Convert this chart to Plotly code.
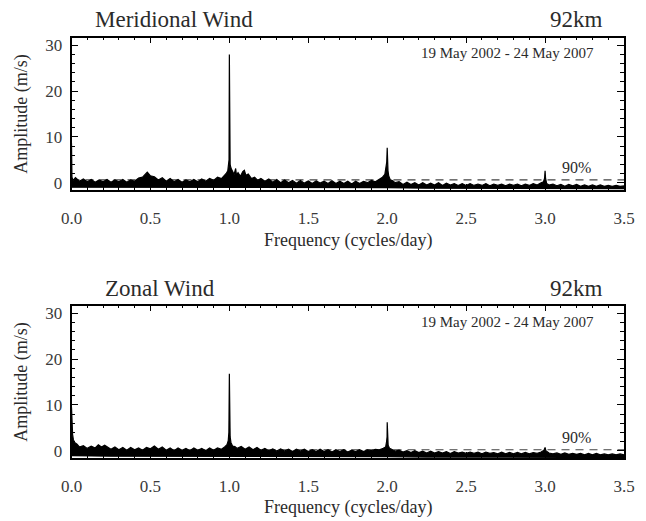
import plotly.graph_objects as go

# ---------------- data ----------------
period_text = "19 May 2002 - 24 May 2007"
height_text = "92km"
panel_titles = ["Meridional Wind", "Zonal Wind"]

# Meridional wind: upper outline of the amplitude spectrum
mer_freq = [0.000, 0.003, 0.010, 0.025, 0.050, 0.075, 0.100, 0.125, 0.150, 0.175,
            0.200, 0.225, 0.250, 0.275, 0.300, 0.325, 0.350, 0.375, 0.400, 0.425,
            0.450, 0.465, 0.480, 0.500, 0.525, 0.550, 0.575, 0.600, 0.625, 0.650,
            0.675, 0.700, 0.725, 0.750, 0.775, 0.800, 0.825, 0.850, 0.875, 0.900,
            0.925, 0.950, 0.970, 0.980, 0.990, 0.995, 0.998, 1.000, 1.002, 1.0035,
            1.005, 1.010, 1.020, 1.030, 1.040, 1.045, 1.055, 1.070, 1.085, 1.095,
            1.105, 1.120, 1.140, 1.160, 1.180, 1.200, 1.225, 1.250, 1.275, 1.300,
            1.325, 1.350, 1.375, 1.400, 1.425, 1.450, 1.475, 1.500, 1.525, 1.550,
            1.575, 1.600, 1.625, 1.650, 1.675, 1.700, 1.725, 1.750, 1.775, 1.800,
            1.825, 1.850, 1.875, 1.900, 1.925, 1.950, 1.970, 1.985, 1.992, 1.997,
            2.000, 2.002, 2.005, 2.010, 2.020, 2.035, 2.050, 2.075, 2.100, 2.125,
            2.150, 2.175, 2.200, 2.225, 2.250, 2.275, 2.300, 2.325, 2.350, 2.375,
            2.400, 2.425, 2.450, 2.475, 2.500, 2.525, 2.550, 2.575, 2.600, 2.625,
            2.650, 2.675, 2.700, 2.725, 2.750, 2.775, 2.800, 2.825, 2.850, 2.875,
            2.900, 2.925, 2.950, 2.975, 2.990, 2.997, 3.000, 3.003, 3.010, 3.025,
            3.050, 3.075, 3.100, 3.125, 3.150, 3.175, 3.200, 3.225, 3.250, 3.275,
            3.300, 3.325, 3.350, 3.375, 3.400, 3.425, 3.450, 3.475, 3.500]
mer_amp = [8.6, 1.2, 0.5, 1.1, 0.3, 0.8, 0.2, 0.7, 0.1, 0.6,
           0.2, 0.7, 0.1, 0.6, 0.2, 0.7, 0.1, 0.6, 0.3, 1.0,
           1.2, 1.8, 2.3, 1.5, 1.3, 0.6, 1.1, 0.3, 0.9, 0.2,
           0.7, 0.1, 0.6, 0.2, 0.7, 0.2, 0.8, 0.3, 0.9, 0.5,
           1.2, 0.9, 1.6, 2.0, 2.6, 3.6, 5.0, 28.0, 5.0, 10.8,
           4.0, 3.2, 2.5, 1.8, 3.1, 1.6, 2.2, 1.4, 2.4, 2.7,
           1.6, 1.9, 0.9, 1.2, 0.5, 0.9, 0.3, 0.8, 0.1, 0.7,
           0.0, 0.6, 0.0, 0.5, -0.1, 0.5, -0.1, 0.4, -0.2, 0.4,
           -0.1, 0.3, -0.2, 0.4, -0.2, 0.3, -0.2, 0.3, -0.3, 0.3,
           -0.2, 0.3, 0.0, 0.5, 0.2, 0.8, 1.2, 1.8, 3.0, 4.5,
           7.6, 4.0, 2.6, 1.4, 0.6, 0.4, 0.0, 0.2, -0.4, 0.1,
           -0.4, 0.0, -0.5, 0.0, -0.5, -0.1, -0.5, 0.0, -0.6, -0.1,
           -0.5, -0.2, -0.6, -0.2, -0.6, -0.2, -0.6, -0.3, -0.6, -0.2,
           -0.7, -0.3, -0.6, -0.3, -0.7, -0.3, -0.6, -0.3, -0.7, -0.3,
           -0.6, -0.2, -0.5, 0.0, 0.2, 1.0, 2.6, 1.0, -0.2, -0.5,
           -0.3, -0.7, -0.4, -0.8, -0.4, -0.7, -0.4, -0.8, -0.5, -0.8,
           -0.5, -0.8, -0.5, -0.8, -0.6, -0.8, -0.6, -0.8, -0.7]
# Meridional wind: lower outline of the noise band
mer_low_freq = [0.0, 0.25, 0.5, 0.75, 1.0, 1.25, 1.5, 1.75, 2.0, 2.25, 2.5, 2.75, 3.0, 3.25, 3.5]
mer_low_amp = [-1.0, -1.0, -1.0, -1.0, -1.0, -1.0, -1.0, -1.1, -1.1, -1.2, -1.2, -1.2, -1.3, -1.3, -1.3]
mer_level90 = 0.6

# Zonal wind: upper outline of the amplitude spectrum
zon_freq = [0.000, 0.003, 0.007, 0.012, 0.020, 0.035, 0.050, 0.075, 0.100, 0.125,
            0.150, 0.170, 0.190, 0.210, 0.250, 0.275, 0.300, 0.325, 0.350, 0.375,
            0.400, 0.425, 0.450, 0.475, 0.500, 0.525, 0.550, 0.575, 0.600, 0.625,
            0.650, 0.675, 0.700, 0.725, 0.750, 0.775, 0.800, 0.825, 0.850, 0.875,
            0.900, 0.925, 0.950, 0.970, 0.985, 0.993, 0.997, 1.000, 1.002, 1.005,
            1.010, 1.020, 1.035, 1.050, 1.075, 1.100, 1.125, 1.150, 1.175, 1.200,
            1.225, 1.250, 1.275, 1.300, 1.325, 1.350, 1.375, 1.400, 1.425, 1.450,
            1.475, 1.500, 1.525, 1.550, 1.575, 1.600, 1.625, 1.650, 1.675, 1.700,
            1.725, 1.750, 1.775, 1.800, 1.825, 1.850, 1.875, 1.900, 1.925, 1.950,
            1.975, 1.990, 1.996, 1.999, 2.000, 2.002, 2.006, 2.015, 2.030, 2.050,
            2.075, 2.100, 2.125, 2.150, 2.175, 2.200, 2.225, 2.250, 2.275, 2.300,
            2.325, 2.350, 2.375, 2.400, 2.425, 2.450, 2.475, 2.500, 2.525, 2.550,
            2.575, 2.600, 2.625, 2.650, 2.675, 2.700, 2.725, 2.750, 2.775, 2.800,
            2.825, 2.850, 2.875, 2.900, 2.925, 2.950, 2.975, 2.993, 3.000, 3.005,
            3.025, 3.050, 3.075, 3.100, 3.125, 3.150, 3.175, 3.200, 3.225, 3.250,
            3.275, 3.300, 3.325, 3.350, 3.375, 3.400, 3.425, 3.450, 3.475, 3.500]
zon_amp = [9.5, 6.0, 3.5, 2.4, 1.8, 1.4, 0.8, 1.1, 0.5, 1.0,
           0.6, 1.3, 0.8, 1.2, 0.3, 0.8, 0.2, 0.7, 0.1, 0.7,
           0.2, 0.6, 0.1, 0.7, 0.4, 1.0, 0.3, 0.8, 0.1, 0.6,
           0.0, 0.6, 0.1, 0.5, 0.0, 0.6, 0.1, 0.5, 0.0, 0.6,
           0.1, 0.6, 0.3, 0.8, 1.3, 2.2, 4.0, 16.8, 5.9, 3.0,
           1.8, 1.0, 0.9, 0.5, 0.9, 0.3, 0.8, 0.2, 0.7, 0.1,
           0.5, 0.0, 0.4, -0.1, 0.4, -0.1, 0.3, -0.2, 0.3, -0.1,
           0.3, -0.2, 0.2, -0.2, 0.3, -0.2, 0.2, -0.3, 0.2, -0.2,
           0.2, -0.3, 0.1, -0.2, 0.2, -0.2, 0.2, 0.0, 0.3, 0.2,
           0.5, 0.8, 2.0, 3.0, 6.2, 2.9, 1.2, 0.5, 0.2, -0.1,
           0.1, -0.3, 0.0, -0.4, 0.0, -0.4, -0.1, -0.5, -0.1, -0.5,
           -0.2, -0.5, -0.2, -0.6, -0.2, -0.5, -0.3, -0.6, -0.3, -0.6,
           -0.3, -0.7, -0.3, -0.6, -0.4, -0.7, -0.3, -0.7, -0.4, -0.7,
           -0.4, -0.7, -0.4, -0.7, -0.4, -0.6, -0.3, 0.1, 0.7, 0.0,
           -0.5, -0.7, -0.5, -0.8, -0.5, -0.8, -0.6, -0.8, -0.6, -0.9,
           -0.6, -0.9, -0.6, -0.9, -0.7, -0.9, -0.7, -0.9, -0.7, -0.9]
zon_low_freq = [0.0, 0.25, 0.5, 0.75, 1.0, 1.25, 1.5, 1.75, 2.0, 2.25, 2.5, 2.75, 3.0, 3.25, 3.5]
zon_low_amp = [-1.1, -1.2, -1.2, -1.2, -1.2, -1.3, -1.3, -1.3, -1.3, -1.4, -1.4, -1.4, -1.4, -1.5, -1.5]
zon_level90 = 0.2

x_ticks = [0.0, 0.5, 1.0, 1.5, 2.0, 2.5, 3.0, 3.5]
x_tick_labels = ["0.0", "0.5", "1.0", "1.5", "2.0", "2.5", "3.0", "3.5"]
y_ticks = [0, 10, 20, 30]
y_tick_labels = ["0", "10", "20", "30"]

# ---------------- figure ----------------
W, H = 646, 521
FONT = "Liberation Serif, Times New Roman, serif"
TXT = "#2b2b2b"

def ppx(px):  # horizontal pixel -> paper
    return px / W

def ppy(py):  # vertical pixel (from top) -> paper
    return 1 - py / H

x_dom = [ppx(71.5), ppx(624)]
doms = [[ppy(190), ppy(37.5)], [ppy(458), ppy(305.5)]]

fig = go.Figure()

panels = [
    (mer_freq, mer_amp, mer_low_freq, mer_low_amp, mer_level90),
    (zon_freq, zon_amp, zon_low_freq, zon_low_amp, zon_level90),
]

for i, (f, a, lf, la, lev) in enumerate(panels):
    xa = "x" if i == 0 else "x2"
    ya = "y" if i == 0 else "y2"
    # dashed 90% significance level
    fig.add_trace(go.Scatter(x=[x_ticks[0], x_ticks[-1]], y=[lev, lev], mode="lines",
                             line=dict(color="#444444", width=1.2, dash="8px,6px"),
                             xaxis=xa, yaxis=ya, showlegend=False, hoverinfo="skip"))
    # spectrum band (upper outline + reversed lower outline)
    fig.add_trace(go.Scatter(x=list(f) + list(lf[::-1]), y=list(a) + list(la[::-1]),
                             mode="lines", fill="toself", fillcolor="black",
                             line=dict(color="black", width=1.2),
                             xaxis=xa, yaxis=ya, showlegend=False, hoverinfo="skip"))

axis_common = dict(showline=True, linecolor="black", linewidth=1.5, mirror="allticks",
                   ticks="inside", tickcolor="black", tickwidth=1, showgrid=False,
                   zeroline=False, tickfont=dict(family=FONT, size=17, color="#3a3a3a"))

for i in range(2):
    sx = "" if i == 0 else "2"
    fig.update_layout(**{
        f"xaxis{sx}": dict(axis_common, domain=x_dom, range=[0, 3.5],
                           tickvals=x_ticks, ticktext=x_tick_labels, ticklen=6,
                           ticklabelstandoff=12,
                           minor=dict(ticks="inside", dtick=0.1, ticklen=3, tickcolor="black",
                                      showgrid=False),
                           anchor="y" if i == 0 else "y2"),
        f"yaxis{sx}": dict(axis_common, domain=doms[i], range=[-1.6, 31.7],
                           tickvals=y_ticks, ticktext=y_tick_labels, ticklen=7,
                           ticklabelstandoff=4,
                           minor=dict(ticks="inside", dtick=2, ticklen=4, tickcolor="black",
                                      showgrid=False),
                           anchor="x" if i == 0 else "x2"),
    })

ann = []
title_y = [19, 288]
title_x = [93, 103]
date_y = [53, 322]
xtitle_y = [240, 507]
mid_y = [113.75, 381.75]
pct_pos = [(3.2, 3.3), (3.2, 2.9)]
for i in range(2):
    xr = "x" if i == 0 else "x2"
    yr = "y" if i == 0 else "y2"
    ann.append(dict(text=panel_titles[i], x=ppx(title_x[i]), y=ppy(title_y[i]), xref="paper", yref="paper",
                    xanchor="left", yanchor="middle", showarrow=False,
                    font=dict(family=FONT, size=23, color=TXT)))
    ann.append(dict(text=height_text, x=ppx(605), y=ppy(title_y[i]), xref="paper", yref="paper",
                    xanchor="right", yanchor="middle", showarrow=False,
                    font=dict(family=FONT, size=23, color=TXT)))
    ann.append(dict(text=period_text, x=ppx(596), y=ppy(date_y[i]), xref="paper", yref="paper",
                    xanchor="right", yanchor="middle", showarrow=False,
                    font=dict(family=FONT, size=15, color=TXT)))
    ann.append(dict(text="Frequency (cycles/day)", x=ppx(347.75), y=ppy(xtitle_y[i]), xref="paper", yref="paper",
                    xanchor="center", yanchor="middle", showarrow=False,
                    font=dict(family=FONT, size=18, color=TXT)))
    ann.append(dict(text="Amplitude (m/s)", x=ppx(22), y=ppy(mid_y[i]), xref="paper", yref="paper",
                    xanchor="center", yanchor="middle", showarrow=False, textangle=-90,
                    font=dict(family=FONT, size=18, color=TXT)))
    ann.append(dict(text="90%", x=pct_pos[i][0], y=pct_pos[i][1], xref=xr, yref=yr,
                    xanchor="center", yanchor="middle", showarrow=False,
                    font=dict(family=FONT, size=16, color=TXT)))

fig.update_layout(width=W, height=H, margin=dict(l=0, r=0, t=0, b=0, autoexpand=False),
                  paper_bgcolor="white", plot_bgcolor="white", annotations=ann,
                  showlegend=False)

fig.write_html("out.html", config={"displayModeBar": False})
